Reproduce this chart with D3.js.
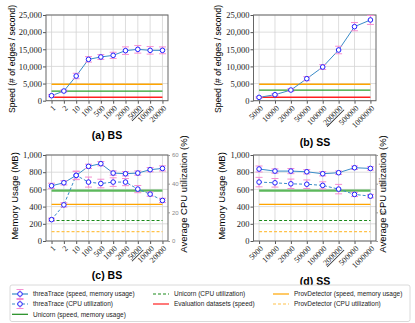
<!DOCTYPE html>
<html>
<head>
<meta charset="utf-8">
<script src="https://cdn.jsdelivr.net/npm/d3@7"></script>
<style>
body { margin: 0; background: #fff; }
</style>
</head>
<body>
<div id="chart"></div>
<script>
// categories
var bsLabels = ["1", "2", "10", "100", "500", "1000", "2000", "5000", "10000", "20000"];
var ssLabels = ["5000", "10000", "20000", "50000", "100000", "200000", "500000", "1000000"];
var bsDefault = "5000", ssDefault = "200000";

// speed (# of edges / second)
var bsSpeed    = [1460, 2820, 7200, 12060, 12750, 13230, 14600, 14980, 14690, 14690];
var bsSpeedErr = [300, 300, 800, 800, 700, 900, 1100, 1100, 1100, 1000];
var ssSpeed    = [970, 1750, 3110, 6420, 9830, 14790, 21600, 23550];
var ssSpeedErr = [200, 300, 400, 600, 700, 1100, 1200, 1300];

// memory usage (MB) and cpu (%)
var bsMemory    = [642, 677, 763, 868, 899, 790, 782, 790, 829, 844];
var bsMemoryErr = [30, 25, 45, 25, 25, 25, 25, 25, 25, 30];
var bsCpu       = [14.9, 25.2, 45.8, 41.1, 40.1, 41.1, 41.1, 36.2, 32.7, 28.3];
var bsCpuErr    = [1.0, 1.5, 3.0, 3.5, 3.0, 3.0, 2.5, 2.5, 1.5, 1.5];
var ssMemory    = [837, 813, 813, 805, 782, 794, 852, 844];
var ssMemoryErr = [35, 25, 30, 25, 25, 20, 20, 20];
var ssCpu       = [41.1, 40.6, 39.9, 39.6, 38.8, 36.2, 32.5, 31.3];
var ssCpuErr    = [3.3, 3.0, 3.3, 3.0, 2.5, 3.3, 1.5, 1.2];

// reference lines [BS, SS]
var provSpeed     = [4800, 4800];
var unicornSpeed  = [2800, 3100];
var datasetSpeed  = [1000, 1000];
var provMemory    = [425, 425];
var unicornMemory = [585, 585];
var provCpu       = [6.5, 6.5];
var unicornCpu    = [14.3, 14.3];

var speedTicks = [0, 5000, 10000, 15000, 20000, 25000];
var memTicks = [0, 200, 400, 600, 800, 1000];
var cpuTicks = [0, 20, 40, 60];

var lineColor = "#3a8cc8", markColor = "#2020ff", errColor = "#f58fd0";
var orange = "#ffa500", orangeLight = "#ffc24a", green = "#2ca02c", greenDark = "#1a8a1a", greenLight = "#5cb85c", red = "#ff2020";

var svg = d3.select("#chart").append("svg")
    .attr("width", 415)
    .attr("height", 323);

function panel(box, cats, yDomain, yTicks, underline) {
  var g = svg.append("g");
  var x = d3.scalePoint().domain(cats).range([box.left, box.right]).padding(0.05 * (cats.length - 1));
  var y = d3.scaleLinear().domain(yDomain).range([box.bottom, box.top]);

  g.selectAll(".vg").data(cats).enter().append("line")
    .attr("x1", function(d) { return x(d); }).attr("x2", function(d) { return x(d); })
    .attr("y1", box.top).attr("y2", box.bottom)
    .attr("stroke", "#d4d4d4").attr("stroke-width", 0.8);
  g.selectAll(".hg").data(yTicks).enter().append("line")
    .attr("x1", box.left).attr("x2", box.right)
    .attr("y1", function(d) { return y(d); }).attr("y2", function(d) { return y(d); })
    .attr("stroke", "#d4d4d4").attr("stroke-width", 0.8);

  var ya = g.append("g")
    .attr("transform", "translate(" + box.left + ",0)")
    .call(d3.axisLeft(y).tickValues(yTicks).tickSize(3).tickPadding(1).tickSizeOuter(0));
  ya.select(".domain").remove();
  ya.selectAll("line").attr("stroke", "#555");
  ya.selectAll("text").style("font-family", "Liberation Serif").style("font-size", "8.5px").attr("fill", "#222");

  var xa = g.append("g")
    .attr("transform", "translate(0," + box.bottom + ")")
    .call(d3.axisBottom(x).tickSize(3).tickSizeOuter(0));
  xa.select(".domain").remove();
  xa.selectAll("line").attr("stroke", "#555");
  xa.selectAll("text")
    .attr("x", 0).attr("y", 0).attr("dy", "0.35em")
    .attr("transform", "translate(2,6) rotate(-45)")
    .style("text-anchor", "end")
    .style("font-family", "Liberation Serif").style("font-size", "8px")
    .attr("fill", "#222")
    .style("text-decoration", function(d) { return d === underline ? "underline" : null; });

  g.append("rect")
    .attr("x", box.left).attr("y", box.top)
    .attr("width", box.right - box.left).attr("height", box.bottom - box.top)
    .attr("fill", "none").attr("stroke", "#666").attr("stroke-width", 1);
  return { g: g, x: x, y: y };
}

function refLine(p, cats, v, color, width, dash) {
  p.g.append("line")
    .attr("x1", p.x(cats[0])).attr("x2", p.x(cats[cats.length - 1]))
    .attr("y1", p.y(v)).attr("y2", p.y(v))
    .attr("stroke", color).attr("stroke-width", width)
    .attr("stroke-dasharray", dash || null);
}

function series(p, y, cats, vals, errs, dash) {
  var data = cats.map(function(c, i) { return { c: c, v: vals[i], e: errs[i] }; });
  var line = d3.line().x(function(d) { return p.x(d.c); }).y(function(d) { return y(d.v); });
  p.g.append("path").attr("d", line(data))
    .attr("fill", "none").attr("stroke", lineColor).attr("stroke-width", 1)
    .attr("stroke-dasharray", dash ? "3,2" : null);
  var eb = p.g.selectAll(null).data(data).enter().append("g").attr("stroke", errColor).attr("stroke-width", 1);
  eb.append("line")
    .attr("x1", function(d) { return p.x(d.c); }).attr("x2", function(d) { return p.x(d.c); })
    .attr("y1", function(d) { return y(d.v - d.e); }).attr("y2", function(d) { return y(d.v + d.e); });
  [-1, 1].forEach(function(s) {
    eb.append("line")
      .attr("x1", function(d) { return p.x(d.c) - 3.5; }).attr("x2", function(d) { return p.x(d.c) + 3.5; })
      .attr("y1", function(d) { return y(d.v + s * d.e); }).attr("y2", function(d) { return y(d.v + s * d.e); });
  });
  p.g.selectAll(null).data(data).enter().append("circle")
    .attr("cx", function(d) { return p.x(d.c); }).attr("cy", function(d) { return y(d.v); })
    .attr("r", 2.3).attr("fill", "#fff").attr("stroke", markColor).attr("stroke-width", 1);
}

function yLabel(x, y, text, size) {
  svg.append("text")
    .attr("transform", "translate(" + x + "," + y + ") rotate(-90)")
    .attr("dy", "0.35em").style("text-anchor", "middle")
    .style("font-family", "Liberation Sans").style("font-size", (size || 9.5) + "px")
    .text(text);
}

function title(x, y, text) {
  svg.append("text").attr("x", x).attr("y", y).attr("dy", "0.35em")
    .style("text-anchor", "middle").style("font-family", "Liberation Sans")
    .style("font-weight", "bold").style("font-size", "10.5px").text(text);
}

var boxes = {
  a: { left: 46, right: 168, top: 15, bottom: 100.7 },
  b: { left: 253.5, right: 376, top: 15, bottom: 100.7 },
  c: { left: 46, right: 168, top: 155, bottom: 241 },
  d: { left: 253.5, right: 376, top: 155, bottom: 241 }
};

// speed panels
[["a", bsLabels, bsSpeed, bsSpeedErr, 0, bsDefault], ["b", ssLabels, ssSpeed, ssSpeedErr, 1, ssDefault]].forEach(function(s) {
  var p = panel(boxes[s[0]], s[1], [0, 25000], speedTicks, s[5]);
  refLine(p, s[1], provSpeed[s[4]], orange, 1.3);
  refLine(p, s[1], unicornSpeed[s[4]], green, 1.3);
  refLine(p, s[1], datasetSpeed[s[4]], red, 1.3);
  series(p, p.y, s[1], s[2], s[3], false);
});

// memory + cpu panels
[["c", bsLabels, bsMemory, bsMemoryErr, bsCpu, bsCpuErr, 0, bsDefault], ["d", ssLabels, ssMemory, ssMemoryErr, ssCpu, ssCpuErr, 1, ssDefault]].forEach(function(s) {
  var box = boxes[s[0]];
  var p = panel(box, s[1], [0, 1000], memTicks, s[7]);
  var y2 = d3.scaleLinear().domain([0, 60]).range([box.bottom, box.top]);
  refLine(p, s[1], unicornMemory[s[6]], greenLight, 2.2);
  refLine(p, s[1], provMemory[s[6]], orange, 1.2);
  refLine({ g: p.g, x: p.x, y: y2 }, s[1], unicornCpu[s[6]], greenDark, 1.2, "3,2");
  refLine({ g: p.g, x: p.x, y: y2 }, s[1], provCpu[s[6]], orangeLight, 1.2, "3,2");
  series(p, y2, s[1], s[4], s[5], true);
  series(p, p.y, s[1], s[2], s[3], false);
  var ra = p.g.append("g")
    .attr("transform", "translate(" + box.right + ",0)")
    .call(d3.axisRight(y2).tickValues(cpuTicks).tickSize(2).tickPadding(2));
  ra.select(".domain").remove();
  ra.selectAll("line").attr("stroke", "#999");
  ra.selectAll("text").style("font-family", "Liberation Sans").style("font-size", "6px").attr("fill", "#888");
});

yLabel(11.7, 59, "Speed (# of edges / second)", 8.6);
yLabel(218.3, 59, "Speed (# of edges / second)", 8.6);
yLabel(15, 196, "Memory Usage (MB)");
yLabel(221.7, 196, "Memory Usage (MB)");
yLabel(184, 194, "Average CPU utilization (%)");
yLabel(383, 194, "Average CPU utilization (%)");

title(107, 135, "(a) BS");
title(315, 142, "(b) SS");
title(107, 275, "(c) BS");
title(315, 281, "(d) SS");

// legend
var legendItems = [
  { col: 0, row: 0, text: "threaTrace (speed, memory usage)", color: lineColor, dash: null, marker: true },
  { col: 0, row: 1, text: "threaTrace (CPU utilization)", color: lineColor, dash: "3,2", marker: true },
  { col: 0, row: 2, text: "Unicorn (speed, memory usage)", color: greenDark, dash: null },
  { col: 1, row: 0, text: "Unicorn (CPU utilization)", color: greenDark, dash: "3,2" },
  { col: 1, row: 1, text: "Evaluation datasets (speed)", color: red, dash: null },
  { col: 2, row: 0, text: "ProvDetector (speed, memory usage)", color: orange, dash: null },
  { col: 2, row: 1, text: "ProvDetector (CPU utilization)", color: orangeLight, dash: "3,2" }
];
var legendCols = [12, 153, 273];
var legendRows = [294, 304, 314.3];

svg.append("rect").attr("x", 10).attr("y", 285).attr("width", 400).attr("height", 36.5)
  .attr("rx", 2).attr("fill", "#fff").attr("stroke", "#d0d0d0").attr("stroke-width", 0.8);

var li = svg.selectAll(".li").data(legendItems).enter().append("g")
  .attr("transform", function(d) { return "translate(" + legendCols[d.col] + "," + legendRows[d.row] + ")"; });
li.append("line").attr("x1", 0).attr("x2", 16).attr("y1", 0).attr("y2", 0)
  .attr("stroke", function(d) { return d.color; }).attr("stroke-width", 1.2)
  .attr("stroke-dasharray", function(d) { return d.dash; });
var lm = li.filter(function(d) { return d.marker; });
lm.append("line").attr("x1", 8).attr("x2", 8).attr("y1", -4.5).attr("y2", 4.5).attr("stroke", errColor);
lm.append("line").attr("x1", 4.5).attr("x2", 11.5).attr("y1", -4.5).attr("y2", -4.5).attr("stroke", errColor);
lm.append("line").attr("x1", 4.5).attr("x2", 11.5).attr("y1", 4.5).attr("y2", 4.5).attr("stroke", errColor);
lm.append("circle").attr("cx", 8).attr("cy", 0).attr("r", 2.3).attr("fill", "#fff").attr("stroke", markColor);
li.append("text").attr("x", 21).attr("y", 0).attr("dy", "0.35em")
  .style("font-family", "Liberation Sans").style("font-size", "6.5px").attr("fill", "#222")
  .text(function(d) { return d.text; });
</script>
</body>
</html>
